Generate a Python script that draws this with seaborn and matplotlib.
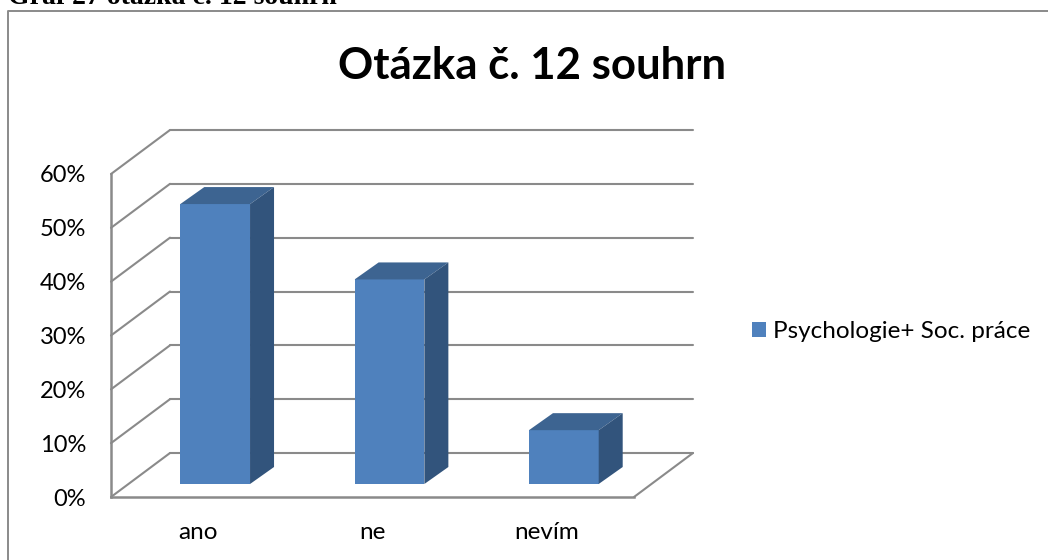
import matplotlib
matplotlib.use('Agg')
import matplotlib.pyplot as plt
import pandas as pd
import seaborn as sns

from matplotlib.lines import Line2D
from matplotlib.patches import Polygon, Rectangle
from matplotlib.transforms import Affine2D

categories = ['ano', 'ne', 'nevím']
values = [52, 38, 10]
tick_values = [0, 10, 20, 30, 40, 50, 60]
tick_labels = ['0%', '10%', '20%', '30%', '40%', '50%', '60%']
series_name = 'Psychologie+ Soc. práce'
chart_title = 'Otázka č. 12 souhrn'
caption = 'Graf 27 otázka č. 12 souhrn'

W, H = 1048, 560
GRAY = '#8A8A8A'
FRONT = '#4F81BD'
TOP = '#3D6491'
SIDE = '#32547C'


def px_axes(fig, left, top, right, bottom):
    return fig.add_axes([left / W, 1 - bottom / H, (right - left) / W, (bottom - top) / H])


sns.set_theme(style='white')
plt.rcParams['font.family'] = ['Lato', 'DejaVu Sans']

fig = plt.figure(figsize=(W / 100, H / 100), dpi=100, facecolor='white')

# chart frame runs off the picture on the right and at the bottom
fig.add_artist(Line2D([8 / W, 8 / W, 1], [0, 1 - 10.5 / H, 1 - 10.5 / H], transform=fig.transFigure,
                      color=GRAY, linewidth=1.4))
fig.text(8 / W, 1 - 3.5 / H, caption, family='Liberation Serif', fontweight='bold', fontsize=20,
         color='black', va='baseline', ha='left')
fig.text(532 / W, 1 - 66 / H, chart_title, fontweight='bold', fontsize=31.5,
         color='black', ha='center', va='center')

# front plane of the chart box, holds the axis and the labels
ax_box = px_axes(fig, 111, 174, 634, 497)
ax_box.set_xlim(-0.5, 2.5)
ax_box.set_ylim(0, 60)
ax_box.set_xticks(range(len(categories)))
ax_box.set_xticklabels(categories)
ax_box.set_yticks(tick_values)
ax_box.set_yticklabels(tick_labels)
ax_box.tick_params(axis='both', length=0, colors='black')
ax_box.tick_params(axis='x', pad=18, labelsize=17.5)
ax_box.tick_params(axis='y', pad=18, labelsize=17)
ax_box.patch.set_visible(False)
sns.despine(ax=ax_box)
for side in ['left', 'bottom']:
    ax_box.spines[side].set_color(GRAY)
    ax_box.spines[side].set_linewidth(1.8)

# walls and floor, back plane is 59px right and 44px up
back = ax_box.transData + Affine2D().translate(59, 44)
for v in tick_values:
    ax_box.plot([-0.5, 2.5], [v, v], transform=back, color=GRAY, lw=1.5, clip_on=False, zorder=1)
    p0 = ax_box.transData.transform((-0.5, v))
    ax_box.plot([p0[0], p0[0] + 59], [p0[1], p0[1] + 44], transform=None, color=GRAY, lw=1.5,
                clip_on=False, zorder=1)
p1 = ax_box.transData.transform((2.5, 0))
ax_box.plot([p1[0], p1[0] + 59], [p1[1], p1[1] + 44], transform=None, color=GRAY, lw=1.5,
            clip_on=False, zorder=1)

# bars sit a bit behind the front plane
ax = px_axes(fig, 128, 161, 651, 484)
df = pd.DataFrame({'odpoved': categories, 'podil': values})
sns.barplot(data=df, x='odpoved', y='podil', color=FRONT, saturation=1, width=0.4, ax=ax,
            label=series_name, legend=False)
ax.set_xlim(-0.5, 2.5)
ax.set_ylim(0, 60)
ax.axis('off')

DX, DY = 24, 17
for bar in list(ax.patches):
    bar.set_linewidth(0)
    x0, y0 = ax.transData.transform((bar.get_x(), 0))
    x1, y1 = ax.transData.transform((bar.get_x() + bar.get_width(), bar.get_height()))
    ax.add_patch(Polygon([(x0, y1), (x1, y1), (x1 + DX, y1 + DY), (x0 + DX, y1 + DY)],
                         transform=None, facecolor=TOP, linewidth=0, clip_on=False))
    ax.add_patch(Polygon([(x1, y0), (x1 + DX, y0 + DY), (x1 + DX, y1 + DY), (x1, y1)],
                         transform=None, facecolor=SIDE, linewidth=0, clip_on=False))

# legend
handle = Rectangle((0, 0), 1, 1, facecolor=FRONT, linewidth=0)
fig.legend([handle], [series_name], loc='center left', bbox_to_anchor=(752 / W, 1 - 332 / H),
           frameon=False, fontsize=17.5, handlelength=0.58, handleheight=0.58, handletextpad=0.3,
           borderpad=0, borderaxespad=0, labelcolor='black')

fig.savefig('out.png', dpi=100, facecolor='white')
